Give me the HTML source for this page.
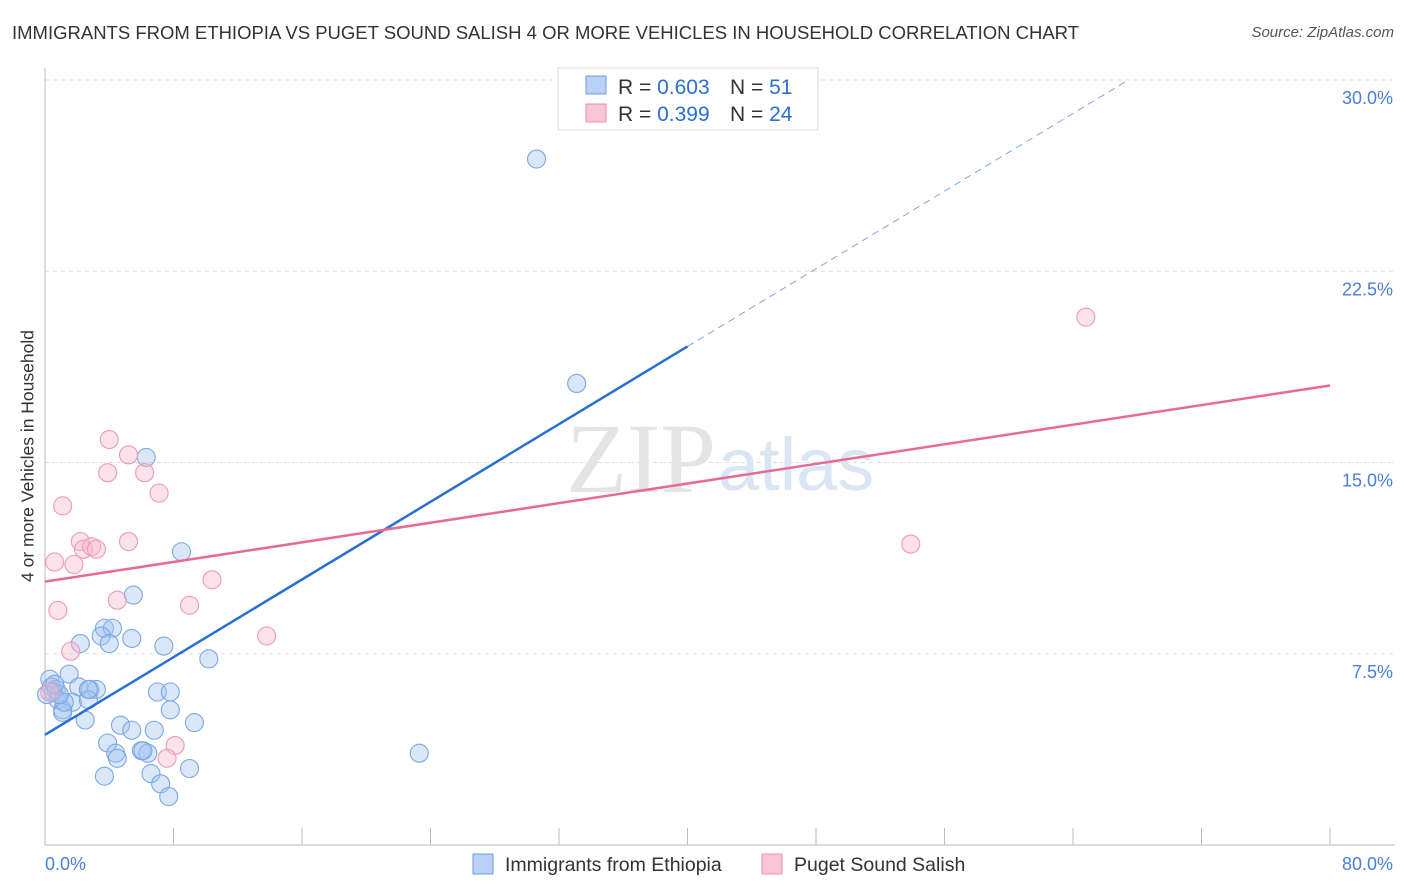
<!DOCTYPE html>
<html><head><meta charset="utf-8"><style>
body{margin:0;background:#fff;font-family:"Liberation Sans",sans-serif;}
#wrap{position:relative;width:1406px;height:892px;overflow:hidden}
.t{position:absolute;white-space:nowrap}
</style></head><body><div id="wrap">
<div class="t" style="left:12px;top:22px;font-size:18.5px;color:#333">IMMIGRANTS FROM ETHIOPIA VS PUGET SOUND SALISH 4 OR MORE VEHICLES IN HOUSEHOLD CORRELATION CHART</div>
<div class="t" style="right:12px;top:24px;font-size:15px;color:#555;font-style:italic">Source: ZipAtlas.com</div>
<div class="t" style="left:28px;top:456px;font-size:17.5px;color:#333;transform:translate(-50%,-50%) rotate(-90deg)">4 or more Vehicles in Household</div>
<svg id="svg" width="1406" height="892" style="position:absolute;left:0;top:0"></svg>
</div>
<script>
const xTicks=[0,8,16,24,32,40,48,56,64,72,80];
const yTicks=[7.5,15,22.5,30];
const yTickLabels=["7.5%","15.0%","22.5%","30.0%"];
const blueX=[30.6,33.1,23.3,6.3,8.5,5.5,3.7,4.2,3.5,4.0,5.4,2.2,7.4,10.2,1.5,0.3,0.4,0.7,2.1,2.8,3.2,0.5,0.8,1.7,1.1,1.1,2.5,0.1,2.7,7.0,7.8,7.8,9.3,4.7,5.4,6.8,3.9,4.4,4.5,6.0,6.4,3.7,6.6,7.2,7.7,9.0,6.1,2.7,1.2,0.9,0.6];
const blueY=[26.9,18.1,3.6,15.2,11.5,9.8,8.5,8.5,8.2,7.9,8.1,7.9,7.8,7.3,6.7,6.5,6.2,6.1,6.2,6.1,6.1,6.0,5.7,5.6,5.3,5.2,4.9,5.9,5.7,6.0,6.0,5.3,4.8,4.7,4.5,4.5,4.0,3.6,3.4,3.7,3.6,2.7,2.8,2.4,1.9,3.0,3.7,6.1,5.6,5.9,6.3];
const pinkX=[64.8,53.9,4.0,5.2,3.9,6.2,7.1,1.1,2.2,2.4,2.9,3.2,5.2,0.6,1.8,10.4,4.5,9.0,0.8,13.8,1.6,8.1,7.6,0.3];
const pinkY=[20.7,11.8,15.9,15.3,14.6,14.6,13.8,13.3,11.9,11.6,11.7,11.6,11.9,11.1,11.0,10.4,9.6,9.4,9.2,8.2,7.6,3.9,3.4,6.0];
const blueLine=[4.32,19.55,30.0];
const pinkLine=[10.33,18.02];
const X0=45,X1=1330,Y0=845,YT=80;
const xs=v=>X0+(X1-X0)*v/80, ys=v=>Y0-(Y0-YT)*v/30;
const svg=document.getElementById('svg');const NS='http://www.w3.org/2000/svg';
function mk(tag,at,name){const e=document.createElementNS(NS,tag);for(const k in at)e.setAttribute(k,at[k]);


svg.appendChild(e);return e;}
yTicks.forEach((v,i)=>{mk('line',{x1:45,x2:1395,y1:ys(v),y2:ys(v),stroke:'#ddd','stroke-dasharray':'4,4'},'gridline');
const t=mk('text',{x:1393,y:ys(v)+24,'text-anchor':'end','font-size':18,fill:'#4a7fd6'},'y-tick-label');t.textContent=yTickLabels[i];});
mk('line',{x1:45,x2:45,y1:68,y2:845,stroke:'#bbb'},'y-axis');
mk('line',{x1:45,x2:1395,y1:845,y2:845,stroke:'#bbb'},'x-axis');
xTicks.forEach(v=>mk('line',{x1:xs(v),x2:xs(v),y1:828,y2:845,stroke:'#bbb'},'x-tick'));
let t=mk('text',{x:45,y:870,'font-size':18,fill:'#4a7fd6'},'x-min-label');t.textContent='0.0%';
t=mk('text',{x:1393,y:870,'text-anchor':'end','font-size':18,fill:'#4a7fd6'},'x-max-label');t.textContent='80.0%';
t=mk('text',{x:716,y:492,'text-anchor':'end','font-size':100,fill:'#e4e4e4','font-family':'Liberation Serif'},'watermark-zip');t.textContent='ZIP';
t=mk('text',{x:718,y:490,'font-size':74,fill:'#dbe6f5'},'watermark-atlas');t.textContent='atlas';
blueX.forEach((v,i)=>mk('circle',{cx:xs(v),cy:ys(blueY[i]),r:9,fill:'rgba(160,196,240,0.4)',stroke:'#7aa8e4','stroke-width':1.1},'blue-point'));
pinkX.forEach((v,i)=>mk('circle',{cx:xs(v),cy:ys(pinkY[i]),r:9,fill:'rgba(248,185,205,0.4)',stroke:'#ee9ab4','stroke-width':1.1},'pink-point'));
const bEndX=(blueLine[2]-blueLine[0])/((blueLine[1]-blueLine[0])/40);
mk('line',{x1:xs(0),y1:ys(blueLine[0]),x2:xs(40),y2:ys(blueLine[1]),stroke:'#2a6fd6','stroke-width':2.5},'blue-trendline');
mk('line',{x1:xs(40),y1:ys(blueLine[1]),x2:xs(bEndX),y2:ys(blueLine[2]),stroke:'#7aa6e4','stroke-width':1,'stroke-dasharray':'7,5'},'blue-trendline-extension');
mk('line',{x1:xs(0),y1:ys(pinkLine[0]),x2:xs(80),y2:ys(pinkLine[1]),stroke:'#e86a92','stroke-width':2.5},'pink-trendline');
mk('rect',{x:558,y:68,width:260,height:62,fill:'#fff',stroke:'#ddd'},'legend-box');
mk('rect',{x:586,y:76,width:20,height:18,fill:'#b9d1f4',stroke:'#6b9ee0'},'legend-blue-swatch');
mk('rect',{x:586,y:104,width:20,height:18,fill:'#f9c6d5',stroke:'#eb8eab'},'legend-pink-swatch');
[['R = ',' 0.603','N = ','51',94],['R = ',' 0.399','N = ','24',121]].forEach(r=>{
let a=mk('text',{x:618,y:r[4],'font-size':21,fill:'#333'},'legend-stat');a.innerHTML='R = <tspan fill="#2a6fd6">'+r[1]+'</tspan>';
a=mk('text',{x:730,y:r[4],'font-size':21,fill:'#333'},'legend-stat');a.innerHTML='N = <tspan fill="#2a6fd6">'+r[3]+'</tspan>';});
mk('rect',{x:473,y:854,width:20,height:20,fill:'#b9d1f4',stroke:'#6b9ee0'},'bottom-legend-blue-swatch');
t=mk('text',{x:505,y:871,'font-size':19.5,fill:'#333'},'bottom-legend-blue-label');t.textContent='Immigrants from Ethiopia';
mk('rect',{x:762,y:854,width:20,height:20,fill:'#f9c6d5',stroke:'#eb8eab'},'bottom-legend-pink-swatch');
t=mk('text',{x:794,y:871,'font-size':19.5,fill:'#333'},'bottom-legend-pink-label');t.textContent='Puget Sound Salish';
</script></body></html>
